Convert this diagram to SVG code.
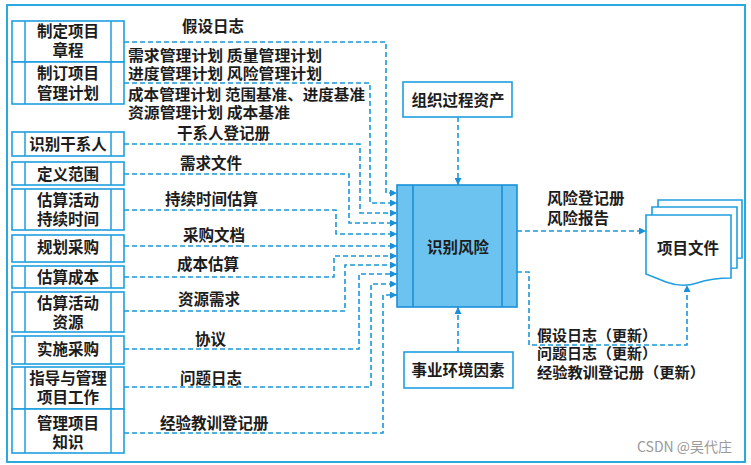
<svg xmlns="http://www.w3.org/2000/svg" width="751" height="465" viewBox="0 0 751 465">
<style>
text{font-family:"Noto Sans CJK SC","Noto Sans",sans-serif;fill:#1c1c1c;font-size:15.5px;font-weight:bold}
.s{font-size:14.5px}
.c{text-anchor:middle}
.box{fill:#fff;stroke:#1e9fe0;stroke-width:1.6}
.ln{fill:none;stroke:#1e9fe0;stroke-width:1.5}
.dash{fill:none;stroke:#1a98d8;stroke-width:1.6;stroke-dasharray:5 3}
.arr{marker-end:url(#ah)}
.core{fill:#6cc3ef;stroke:#1a90d8;stroke-width:1.6}
.wm{fill:#9a9a9a;font-size:14px;font-weight:normal}
</style>
<defs>
<marker id="ah" viewBox="0 0 8 8" refX="8" refY="4" markerWidth="7" markerHeight="7" orient="auto" markerUnits="userSpaceOnUse">
<path d="M0,0 L8,4 L0,8 z" fill="#1a90d8"/>
</marker>
</defs>
<rect x="0" y="0" width="751" height="465" fill="#fff"/>
<rect x="7" y="5" width="738" height="457" fill="#fff" stroke="#2aa8e0" stroke-width="2"/>

<g id="connectors">
<path class="dash arr" d="M124,42 H386 V193 H397"/>
<path class="dash arr" d="M124,83 H370 V203 H397"/>
<path class="dash arr" d="M124,144 H360 V213 H397"/>
<path class="dash arr" d="M124,174 H349 V223 H397"/>
<path class="dash arr" d="M124,210 H336 V234 H397"/>
<path class="dash arr" d="M124,246 H397"/>
<path class="dash arr" d="M124,277 H334 V256 H397"/>
<path class="dash arr" d="M124,311 H345 V265 H397"/>
<path class="dash arr" d="M124,349 H359 V274 H397"/>
<path class="dash arr" d="M124,387 H371 V284 H397"/>
<path class="dash arr" d="M124,433 H383 V295 H397"/>
<path class="dash arr" d="M458,117 V185"/>
<path class="dash arr" d="M458,352 V307"/>
<path class="dash arr" d="M517,231 H646"/>
<path class="dash arr" d="M517,272 H529 V345 H687 V285"/>
</g>

<g id="labels">
<text x="182" y="32">假设日志</text>
<text class="s" x="128" y="61" textLength="194" lengthAdjust="spacingAndGlyphs">需求管理计划 质量管理计划</text>
<text class="s" x="128" y="79" textLength="194" lengthAdjust="spacingAndGlyphs">进度管理计划 风险管理计划</text>
<text class="s" x="128" y="100" textLength="237" lengthAdjust="spacingAndGlyphs">成本管理计划 范围基准、进度基准</text>
<text class="s" x="128" y="118" textLength="162" lengthAdjust="spacingAndGlyphs">资源管理计划 成本基准</text>
<text x="177" y="139">干系人登记册</text>
<text x="180" y="169">需求文件</text>
<text x="165" y="205">持续时间估算</text>
<text x="183" y="241">采购文档</text>
<text x="177" y="270">成本估算</text>
<text x="178" y="305">资源需求</text>
<text x="195" y="345">协议</text>
<text x="180" y="384">问题日志</text>
<text x="160" y="429">经验教训登记册</text>
<text x="547" y="204">风险登记册</text>
<text x="547" y="224">风险报告</text>
<text class="s" x="537" y="341" textLength="120" lengthAdjust="spacingAndGlyphs">假设日志（更新）</text>
<text class="s" x="537" y="359" textLength="120" lengthAdjust="spacingAndGlyphs">问题日志（更新）</text>
<text class="s" x="537" y="378" textLength="168" lengthAdjust="spacingAndGlyphs">经验教训登记册（更新）</text>
</g>

<g id="n1"><rect class="box" x="12" y="21" width="112" height="41"/><path class="ln" d="M25,21 V62 M111,21 V62"/><text class="c" x="68" y="37">制定项目</text><text class="c" x="68" y="56">章程</text></g>
<g id="n2"><rect class="box" x="12" y="62" width="112" height="42"/><path class="ln" d="M25,62 V104 M111,62 V104"/><text class="c" x="68" y="79">制订项目</text><text class="c" x="68" y="99">管理计划</text></g>
<g id="n3"><rect class="box" x="12" y="132" width="112" height="24"/><path class="ln" d="M25,132 V156 M111,132 V156"/><text class="c" x="68" y="150">识别干系人</text></g>
<g id="n4"><rect class="box" x="12" y="162" width="112" height="23"/><path class="ln" d="M25,162 V185 M111,162 V185"/><text class="c" x="68" y="180">定义范围</text></g>
<g id="n5"><rect class="box" x="12" y="189" width="112" height="41"/><path class="ln" d="M25,189 V230 M111,189 V230"/><text class="c" x="68" y="206">估算活动</text><text class="c" x="68" y="225">持续时间</text></g>
<g id="n6"><rect class="box" x="12" y="235" width="112" height="27"/><path class="ln" d="M25,235 V262 M111,235 V262"/><text class="c" x="68" y="253">规划采购</text></g>
<g id="n7"><rect class="box" x="12" y="266" width="112" height="22"/><path class="ln" d="M25,266 V288 M111,266 V288"/><text class="c" x="68" y="283">估算成本</text></g>
<g id="n8"><rect class="box" x="12" y="292" width="112" height="40"/><path class="ln" d="M25,292 V332 M111,292 V332"/><text class="c" x="68" y="309">估算活动</text><text class="c" x="68" y="328">资源</text></g>
<g id="n9"><rect class="box" x="12" y="336" width="112" height="28"/><path class="ln" d="M25,336 V364 M111,336 V364"/><text class="c" x="68" y="355">实施采购</text></g>
<g id="n10"><rect class="box" x="12" y="367" width="112" height="42"/><path class="ln" d="M25,367 V409 M111,367 V409"/><text class="c" x="68" y="384">指导与管理</text><text class="c" x="68" y="403">项目工作</text></g>
<g id="n11"><rect class="box" x="12" y="409" width="112" height="44"/><path class="ln" d="M25,409 V453 M111,409 V453"/><text class="c" x="68" y="429">管理项目</text><text class="c" x="68" y="448">知识</text></g>

<g id="n12"><rect class="box" x="403" y="82" width="109" height="35"/><text class="c" x="458" y="106">组织过程资产</text></g>
<g id="n13"><rect class="box" x="404" y="352" width="109" height="36"/><text class="c" x="458" y="376">事业环境因素</text></g>

<g id="n14"><rect class="core" x="397" y="185" width="120" height="122"/><path fill="none" stroke="#1a90d8" stroke-width="1.6" d="M413,185 V307 M502,185 V307"/><text class="c" x="458" y="253">识别风险</text></g>

<g id="n15">
<path class="box" d="M658,200 H742 V258 Q726,258 712,263 Q697,268 682,262 Q670,258 658,254 Z"/>
<path class="box" d="M652,207 H737 V268 Q719,268 704,273 Q689,278 673,272 Q662,268 652,264 Z"/>
<path class="box" d="M646,215 H731 V278 Q712,278 697,283 Q682,288 666,282 Q656,278 646,274 Z"/>
<text class="c" x="688" y="254">项目文件</text>
</g>

<text class="wm" x="637" y="452">CSDN @吴代庄</text>
</svg>
